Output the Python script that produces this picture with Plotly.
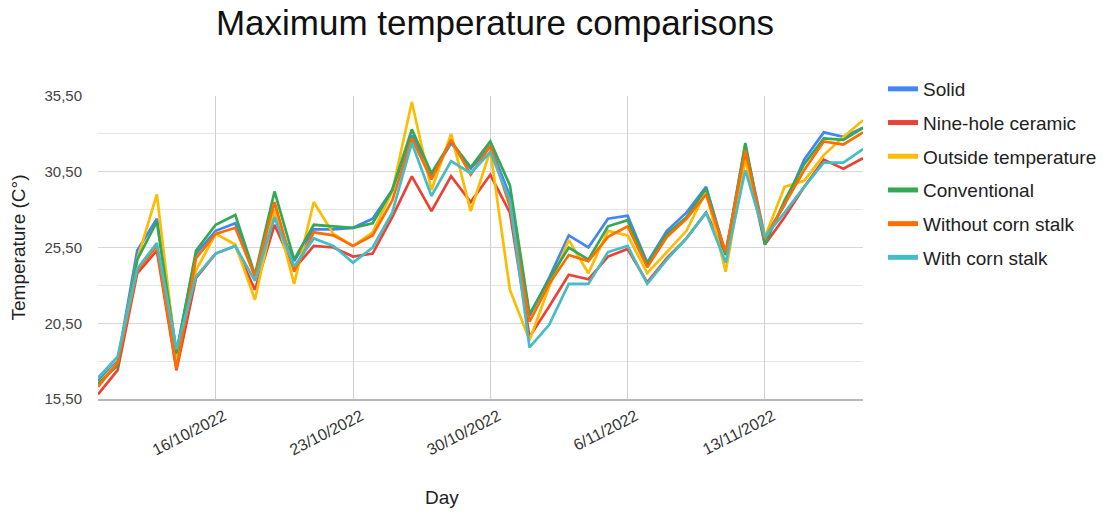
import plotly.graph_objects as go

days = [
    "2022-10-10", "2022-10-11", "2022-10-12", "2022-10-13", "2022-10-14", "2022-10-15", "2022-10-16",
    "2022-10-17", "2022-10-18", "2022-10-19", "2022-10-20", "2022-10-21", "2022-10-22", "2022-10-23",
    "2022-10-24", "2022-10-25", "2022-10-26", "2022-10-27", "2022-10-28", "2022-10-29", "2022-10-30",
    "2022-10-31", "2022-11-01", "2022-11-02", "2022-11-03", "2022-11-04", "2022-11-05", "2022-11-06",
    "2022-11-07", "2022-11-08", "2022-11-09", "2022-11-10", "2022-11-11", "2022-11-12", "2022-11-13",
    "2022-11-14", "2022-11-15", "2022-11-16", "2022-11-17", "2022-11-18",
]

solid = [16.7, 18.0, 25.3, 27.4, 18.6, 25.1, 26.6, 27.1, 23.6, 27.5,
         24.6, 26.7, 26.7, 26.8, 27.4, 29.3, 32.9, 30.2, 32.4, 30.7,
         32.2, 28.9, 21.0, 23.5, 26.3, 25.5, 27.4, 27.6, 24.5, 26.6,
         27.8, 29.5, 25.1, 32.2, 26.2, 28.3, 31.3, 33.1, 32.8, 33.4]
nine_hole = [15.8, 17.4, 23.8, 25.3, 17.4, 23.5, 25.1, 25.6, 22.7, 27.0,
             24.1, 25.6, 25.5, 24.9, 25.1, 27.5, 30.2, 27.9, 30.2, 28.5,
             30.3, 27.8, 19.6, 21.6, 23.7, 23.4, 24.9, 25.4, 23.2, 24.8,
             26.1, 27.8, 25.1, 31.5, 25.7, 27.5, 29.5, 31.3, 30.7, 31.4]
outside = [16.5, 17.9, 24.7, 29.0, 18.2, 24.0, 26.4, 25.7, 22.05, 28.0,
           23.1, 28.5, 26.4, 25.6, 26.5, 29.2, 35.1, 29.3, 33.0, 27.9,
           31.9, 22.7, 19.4, 22.9, 26.0, 23.8, 26.6, 26.3, 23.8, 25.2,
           26.6, 29.2, 23.9, 31.3, 26.2, 29.5, 29.9, 31.6, 32.8, 33.9]
conventional = [16.5, 17.7, 24.7, 27.2, 18.5, 25.3, 27.0, 27.65, 23.7, 29.2,
                24.7, 27.0, 26.9, 26.8, 27.1, 29.3, 33.3, 30.4, 32.5, 30.8,
                32.5, 29.6, 21.1, 23.4, 25.5, 24.7, 26.9, 27.3, 24.4, 26.4,
                27.5, 29.4, 25.0, 32.4, 25.7, 28.6, 31.0, 32.7, 32.6, 33.4]
without_corn = [16.3, 17.9, 24.0, 25.6, 17.5, 24.8, 26.4, 26.8, 23.6, 28.5,
                23.9, 26.5, 26.3, 25.6, 26.3, 28.6, 32.7, 30.0, 32.6, 30.3,
                32.2, 28.2, 20.6, 23.1, 25.0, 24.6, 26.2, 26.9, 24.2, 26.2,
                27.4, 29.0, 25.2, 31.9, 26.1, 28.4, 30.6, 32.5, 32.3, 33.1]
with_corn = [16.9, 18.3, 24.1, 25.8, 18.8, 23.6, 25.1, 25.6, 23.3, 27.5,
             24.25, 26.1, 25.6, 24.5, 25.5, 27.8, 32.4, 28.9, 31.2, 30.4,
             31.8, 28.6, 18.9, 20.4, 23.1, 23.1, 25.2, 25.6, 23.1, 24.7,
             26.1, 27.8, 24.5, 30.6, 26.2, 27.8, 29.5, 31.1, 31.1, 32.0]

series_names = ["Solid", "Nine-hole ceramic", "Outside temperature",
                "Conventional", "Without corn stalk", "With corn stalk"]
series_colors = ["#4285F4", "#EA4335", "#FBBC04", "#34A853", "#FF6D01", "#46BDC6"]
series_values = [solid, nine_hole, outside, conventional, without_corn, with_corn]

x_tick_vals = ["2022-10-16", "2022-10-23", "2022-10-30", "2022-11-06", "2022-11-13"]
x_tick_text = ["16/10/2022", "23/10/2022", "30/10/2022", "6/11/2022", "13/11/2022"]
y_tick_vals = [15.5, 20.5, 25.5, 30.5, 35.5]
y_tick_text = ["15,50", "20,50", "25,50", "30,50", "35,50"]
y_minor_vals = [18, 23, 28, 33]

fig = go.Figure()
for i, (name, color, vals) in enumerate(zip(series_names, series_colors, series_values)):
    fig.add_trace(go.Scatter(
        x=days, y=vals, name=name, mode="lines",
        line=dict(color=color, width=2.7),
        legendgroup=str(i), showlegend=False,
    ))
# legend entries (thicker key lines, like the reference legend)
for i, (name, color) in enumerate(zip(series_names, series_colors)):
    fig.add_trace(go.Scatter(
        x=[None], y=[None], name=name, mode="lines",
        line=dict(color=color, width=5),
        legendgroup=str(i), showlegend=True, hoverinfo="skip",
    ))

fig.update_layout(
    width=1108, height=513,
    paper_bgcolor="white", plot_bgcolor="white",
    margin=dict(l=98, r=245, t=96, b=114),
    font=dict(family="Arial, Liberation Sans, sans-serif", color="#222222"),
    title=dict(text="Maximum temperature comparisons",
               x=495 / 1108, xanchor="center", xref="container",
               y=1 - 23 / 513, yanchor="middle", yref="container",
               font=dict(size=35, color="#111111")),
    showlegend=True,
    legend=dict(x=883 / 1108, xanchor="left", xref="container",
                y=1 - 70 / 513, yanchor="top", yref="container",
                traceorder="grouped", tracegroupgap=6,
                font=dict(size=19, color="#222222"),
                itemwidth=30, bgcolor="rgba(0,0,0,0)"),
    xaxis=dict(
        type="date",
        range=["2022-10-10", "2022-11-18"],
        tickvals=x_tick_vals, ticktext=x_tick_text,
        tickangle=-27,
        ticklabelshift=8,
        tickfont=dict(size=16, color="#333333"),
        showgrid=True, gridcolor="#d0d0d0", gridwidth=1.2,
        showline=True, linecolor="#b8b8b8", linewidth=2,
        ticks="", zeroline=False,
        title=dict(text=""),
    ),
    yaxis=dict(
        range=[15.5, 35.5],
        tickvals=y_tick_vals, ticktext=y_tick_text,
        tickfont=dict(size=15, color="#444444"),
        ticklabelstandoff=15,
        showgrid=True, gridcolor="#d6d6d6", gridwidth=1.2,
        minor=dict(tickvals=y_minor_vals, showgrid=True, gridcolor="#e6e6e6", gridwidth=1),
        zeroline=False, showline=False, ticks="",
        title=dict(text="Temperature (C°)", font=dict(size=19, color="#222222"), standoff=13),
    ),
    annotations=[
        dict(text="Day", x=(442 - 98) / (1108 - 98 - 245), y=-(497 - 399) / (399 - 96),
             xref="paper", yref="paper", xanchor="center", yanchor="middle",
             showarrow=False, font=dict(size=19, color="#222222")),
    ],
)

fig.write_html("out.html")
